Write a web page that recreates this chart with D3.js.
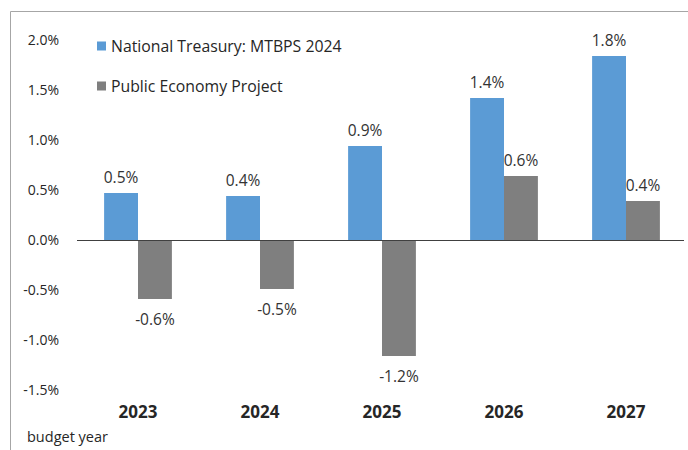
<!DOCTYPE html>
<html>
<head>
<meta charset="utf-8">
<script src="https://cdn.jsdelivr.net/npm/d3@7/dist/d3.min.js"></script>
<style>
  body { margin: 0; background: #fff; }
  text { font-family: "Open Sans", "Noto Sans", sans-serif; fill: #262626; }
  .tick text { font-size: 14px; }
  .val { font-size: 15.5px; fill: #333; }
  .legend text { font-size: 15.8px; }
</style>
</head>
<body>
<script>
var years = ["2023", "2024", "2025", "2026", "2027"];
var treasury = [0.47, 0.44, 0.94, 1.42, 1.84];
var pep = [-0.59, -0.49, -1.16, 0.64, 0.39];
var seriesNames = ["National Treasury: MTBPS 2024", "Public Economy Project"];
var colors = ["#5b9bd5", "#7f7f7f"];
var yTicks = [-1.5, -1.0, -0.5, 0.0, 0.5, 1.0, 1.5, 2.0];

var width = 688, height = 450;

function pct(v) { return d3.format(".1f")(v).replace("\u2212", "-") + "%"; }

var svg = d3.select("body").append("svg")
  .attr("width", width)
  .attr("height", height);

// outer frame (cut off at right and bottom)
svg.append("path")
  .attr("d", "M10.5," + height + "V11.5H" + width)
  .attr("fill", "none")
  .attr("stroke", "#a6a6a6");

var y = d3.scaleLinear().domain([-1.5, 2.0]).range([390, 40]);
var x = d3.scaleBand().domain(years).range([77, 687]).paddingInner(0).paddingOuter(0);
var inner = d3.scaleBand().domain([0, 1]).range([0, x.bandwidth()]).paddingOuter(0.8).paddingInner(0);

// y axis labels only
var yAxis = d3.axisLeft(y).tickValues(yTicks).tickSize(0).tickPadding(0);
var yg = svg.append("g").attr("transform", "translate(59,0)").call(yAxis);
yg.select(".domain").remove();
yg.selectAll("text").attr("fill", "#262626").attr("dy", "0.35em").text(pct);

var data = years.map(function(yr, i) { return { year: yr, vals: [treasury[i], pep[i]] }; });

var groups = svg.selectAll(".grp").data(data).enter().append("g")
  .attr("transform", function(d) { return "translate(" + x(d.year) + ",0)"; });

groups.selectAll("rect").data(function(d) { return d.vals; }).enter().append("rect")
  .attr("x", function(v, j) { return inner(j); })
  .attr("width", inner.bandwidth())
  .attr("y", function(v) { return y(Math.max(0, v)); })
  .attr("height", function(v) { return Math.abs(y(v) - y(0)); })
  .attr("fill", function(v, j) { return colors[j]; });

groups.selectAll(".val").data(function(d) { return d.vals; }).enter().append("text")
  .attr("class", "val")
  .attr("text-anchor", "middle")
  .attr("x", function(v, j) { return inner(j) + inner.bandwidth() / 2; })
  .attr("y", function(v) { return v >= 0 ? y(v) - 15 : y(v) + 21; })
  .attr("dy", "0.35em")
  .text(pct);

// zero line
svg.append("line")
  .attr("x1", 77).attr("x2", 684)
  .attr("y1", y(0) + 0.5).attr("y2", y(0) + 0.5)
  .attr("stroke", "#404040");

// category labels
var xAxis = d3.axisBottom(x).tickSize(0).tickPadding(0);
var xg = svg.append("g").attr("transform", "translate(0,412)").call(xAxis);
xg.select(".domain").remove();
xg.selectAll("text").attr("dy", "0.35em").attr("fill", "#111")
  .style("font-size", "17px").style("font-weight", "bold");

svg.append("text")
  .attr("x", 27).attr("y", 437).attr("dy", "0.35em")
  .style("font-size", "14.5px")
  .text("budget year");

// legend
var legend = svg.append("g").attr("class", "legend");
var li = legend.selectAll("g").data(seriesNames).enter().append("g")
  .attr("transform", function(d, i) { return "translate(97," + (46 + i * 40) + ")"; });
li.append("rect").attr("x", 0).attr("y", -4.5).attr("width", 9).attr("height", 9)
  .attr("fill", function(d, i) { return colors[i]; });
li.append("text").attr("x", 14).attr("dy", "0.35em").text(function(d) { return d; });
</script>
</body>
</html>
